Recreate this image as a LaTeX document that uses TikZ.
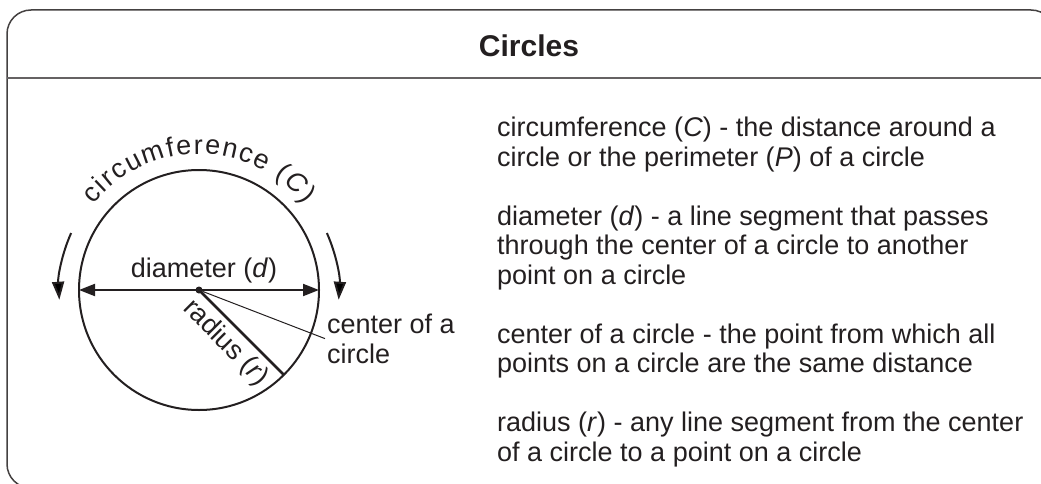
\documentclass[tikz,border=0pt]{standalone}
\usepackage{fontspec}
\setmainfont{Liberation Sans}
\usetikzlibrary{arrows.meta,calc,decorations.text}
\definecolor{ink}{HTML}{231F20}
\tikzset{
  frame/.style={draw=ink!85, line width=1.5pt, rounded corners=24pt},
  rule/.style={draw=ink!70, line width=2pt},
  heavy/.style={draw=ink, line width=2pt},
  deftext/.style={anchor=base west, align=left, inner sep=0pt, text=ink},
  tip/.style={-{Triangle[length=18pt,width=12pt]}},
  bothtips/.style={{Triangle[length=16pt,width=12pt]}-{Triangle[length=16pt,width=12pt]}}
}
\begin{document}
\fontsize{27}{29.5}\selectfont
\begin{tikzpicture}[x=1pt, y=1pt]
  \def\R{120}
  \def\Ra{140}
  \def\Rt{136}
  \useasboundingbox (0,0) rectangle (1041,483);
  % frame and header
  \draw[frame] (7,-5) rectangle (1055,473);
  \draw[rule] (7,405) -- (1055,405);
  \node[anchor=base, text=ink, inner sep=0pt, font=\bfseries\fontsize{30}{32}\selectfont] (title) at (529,426) {Circles};

  % the circle
  \coordinate (ctr) at (199,193);
  \draw[heavy] (ctr) circle [radius=\R];
  \coordinate (dl) at ($(ctr)+(180:\R)$);
  \coordinate (dr) at ($(ctr)+(0:\R)$);
  \coordinate (rend) at ($(ctr)+(-45:\R)$);
  \draw[heavy, bothtips] (dl) -- node[above, xshift=5pt, text=ink, inner sep=6pt] (dlab) {diameter (\textit{d})} (dr);
  \draw[ink, line width=2.5pt] (ctr) -- node[pos=0.47, sloped, below, text=ink, inner sep=5pt] (rlab) {radius (\textit{r})} (rend);
  \node[circle, fill=ink, inner sep=0pt, minimum size=7pt] (dot) at (ctr) {};

  % circumference text and arrows
  \path[decorate, decoration={text along path, text align=fit to path, text color=ink,
    text={circumference (|\itshape|C||)}}]
    ($(ctr)+(141:\Rt)$) arc [start angle=141, end angle=39, radius=\Rt];
  \draw[heavy, tip] ($(ctr)+(156:\Ra)$) arc [start angle=156, end angle=184, radius=\Ra];
  \draw[heavy, tip] ($(ctr)+(24:\Ra)$) arc [start angle=24, end angle=-4, radius=\Ra];

  % center label
  \node[deftext, inner sep=2pt] (clab) at (325,120) {center of a\\circle};
  \draw[ink, line width=1pt] (dot) -- (clab.west);

  % definitions
  \node[deftext] (circdef) at (497,317) {circumference (\textit{C}) - the distance around a\\circle or the perimeter (\textit{P}) of a circle};
  \node[deftext] (diadef) at (497,199) {diameter (\textit{d}) - a line segment that passes\\through the center of a circle to another\\point on a circle};
  \node[deftext] (ctrdef) at (497,110.5) {center of a circle - the point from which all\\points on a circle are the same distance};
  \node[deftext] (raddef) at (497,22) {radius (\textit{r}) - any line segment from the center\\of a circle to a point on a circle};
\end{tikzpicture}
\end{document}
